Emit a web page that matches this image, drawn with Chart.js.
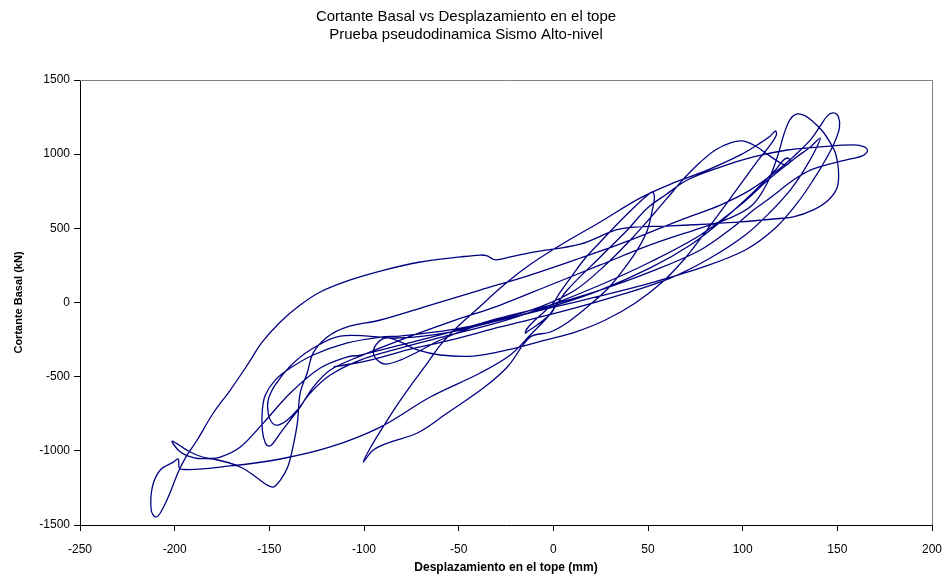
<!DOCTYPE html>
<html>
<head>
<meta charset="utf-8">
<script src="https://cdn.jsdelivr.net/npm/chart.js@4.4.1/dist/chart.umd.min.js"></script>
<style>
  html, body { margin: 0; padding: 0; background: #fff; }
  #wrap { width: 944px; height: 575px; }
</style>
</head>
<body>
<div id="wrap"><canvas id="histeresis"></canvas></div>
<script>
"use strict";

// Desplazamiento en el tope (mm), en orden de ensayo
const desplazamiento = [
    0, 0, -2.6, -7.9, -13.2, -14.8, -13.2, -7.9, -3.2, 0,
    3.7, 9.0, 16.9, 24.8, 33.8, 42.3, 48.6, 52.3, 53.4,
    52.3, 49.7, 44.9, 38.0, 29.1, 18.5, 7.9, -1.6, -12.2, -24.3, -37.0, -56.0, -71.8, -86.1, -95.1, -100.4,
    -96.7, -90.3, -82.9, -75.5, -67.6, -59.7, -50.7, -39.6, -28.0, -14.8, 2.1, 24.8, 46.0, 63.4, 81.4, 98.8, 109.4, 114.6, 117.3, 117.8,
    114.6, 108.3, 99.8, 90.9, 80.3, 69.7, 57.6, 43.3, 27.5, 11.6, -4.2, -24.3, -42.3, -59.7, -71.8, -80.8, -87.7, -92.4, -95.1, -93.0, -88.7, -80.8, -71.8, -59.7, -42.3, -24.3, -6.9,
    11.6, 27.5, 40.7, 53.9, 62.9, 69.7, 77.7, 85.6, 93.5, 99.8, 106.7, 113.6, 119.9, 123.1, 125.2, 123.6, 121.0,
    117.3, 104.1, 88.2, 72.4, 51.2, 24.8, -1.6, -28.0, -54.4, -80.8, -91.4, -108.8, -126.8, -138.9, -146.9, -152.1, -153.7, -153.7, -152.1, -150.0, -147.9, -144.2, -138.9, -133.7, -126.8, -117.8, -102.0,
    -80.8, -54.4, -28.0, -1.6, 24.8, 51.2, 77.7, 93.5, 105.1, 113.0, 118.3, 122.0, 125.2, 128.9, 133.1, 137.3, 142.1, 146.3, 149.0, 150.6,
    150.0, 145.3, 137.3, 126.8, 116.2, 98.8, 81.4, 61.8, 35.4, 14.3, -10.6, -22.7, -30.6, -34.9, -38.6, -49.1, -70.3, -91.4, -107.2, -123.1,
    -133.7, -144.2, -153.7, -161.6, -170.6, -179.6, -188.1, -194.4, -198.1, -203.4, -207.6, -210.2, -212.4, -211.8, -207.6, -200.7, -198.1, -197.0,
    -170.6, -144.2, -117.8, -91.4, -65.0, -38.6, -22.7, -12.2, -2.6, 7.4, 24.8, 39.1, 49.7, 59.2, 70.8, 88.2, 105.7, 123.6, 141.0, 158.5,
    164.3, 165.9, 163.2, 156.9, 150.0, 135.8, 126.8, 119.9, 113.0, 105.7, 95.1,
    77.7, 51.2, 24.8, -1.6, -28.0, -54.4, -80.8, -102.0, -108.8, -123.1, -138.9, -153.2, -165.3, -175.9, -182.8, -191.8, -201.3,
    -197.0, -189.1, -179.6, -165.3, -156.4, -151.1, -147.9, -144.2, -140.5, -137.9, -135.2, -133.7, -130.0, -126.8, -119.4, -108.8, -91.4, -65.0, -38.6, -12.2,
    14.3, 40.7, 67.1, 88.2, 104.1, 117.3, 127.8, 135.8, 141.0, 144.7, 147.9, 150.6, 151.1, 148.4, 143.7, 137.3, 128.9, 117.3, 101.4, 77.7,
    51.2, 24.8, -1.6, -28.0, -54.4, -80.8, -112.5, -128.4, -138.9, -146.9, -150.6, -150.6, -148.4, -145.3, -140.5, -135.2, -128.4, -117.8, -102.0, -80.8,
    -54.4, -28.0, -1.6, 24.8, 51.2, 77.7, 98.8, 114.6, 127.8, 135.8, 141.0,
    138.4, 133.1, 125.2, 114.6, 101.4, 82.9, 61.8, 35.4, 3.7, -28.0, -54.4, -77.1, -96.7, -116.2
];

// Cortante basal (kN), mismo orden
const cortante = [
    3, -51, -91, -145, -192, -206, -165, -98, -44, -3,
    71, 165, 300, 408, 529, 637, 711, 745, 711,
    624, 489, 367, 239, 98, -24, -131, -199, -233, -435, -577, -745, -880, -941, -995, -1076,
    -981, -846, -698, -563, -428, -287, -165, -37, 98, 233, 374, 543, 705, 806, 893, 995, 1076, 1123, 1156, 1129,
    1062, 961, 813, 657, 475, 300, 138, -3, -118, -199, -253, -320, -361, -354, -320, -266, -239, -266, -334, -388, -415, -388, -334, -253, -165, -98, -30,
    84, 253, 421, 610, 745, 846, 947, 1028, 1076, 1089, 1055, 995, 941, 927, 954, 974, 954,
    893, 725, 543, 388, 233, 84, -30, -118, -185, -226, -233, -273, -354, -442, -523, -624, -725, -860, -947, -968, -947, -880, -792, -705, -570, -455, -361,
    -253, -131, -17, 118, 253, 388, 502, 570, 657, 806, 981, 1143, 1237, 1271, 1258, 1217, 1156, 1076, 1008, 893,
    779, 691, 624, 577, 563, 543, 529, 516, 496, 394, 340, 307, 287, 314, 320, 307, 273, 212, 152, 71,
    -17, -131, -266, -421, -590, -745, -927, -1049, -1143, -1312, -1419, -1446, -1399, -1244, -1129, -1076, -1055, -1123,
    -1102, -1055, -974, -840, -637, -475, -354, -219, -91, 84, 307, 489, 637, 725, 826, 913, 981, 1028, 1049, 1062,
    1049, 1022, 988, 968, 947, 893, 826, 759, 691, 624, 509,
    354, 206, 84, -17, -104, -199, -287, -354, -367, -442, -610, -813, -974, -1042, -1049, -1008, -934,
    -1008, -1049, -1055, -1109, -1183, -1231, -1244, -1197, -1116, -995, -813, -610, -475, -340, -233, -165, -118, -17, 84, 185,
    300, 421, 556, 657, 759, 880, 995, 1096, 1190, 1258, 1278, 1251, 1177, 1076, 961, 826, 671, 502, 354, 233,
    131, 44, -37, -118, -199, -239, -226, -320, -428, -556, -658, -745, -813, -826, -792, -725, -610, -489, -388, -307,
    -219, -131, -17, 118, 273, 455, 657, 839, 974, 1049, 1109,
    1028, 907, 759, 610, 455, 300, 165, 51, -64, -165, -253, -320, -388, -435
];

const ticksX = [-250, -200, -150, -100, -50, 0, 50, 100, 150, 200];
const ticksY = [-1500, -1000, -500, 0, 500, 1000, 1500];

const titulo = ['Cortante Basal vs Desplazamiento en el tope', 'Prueba pseudodinamica Sismo Alto-nivel'];

const puntos = desplazamiento.map((d, i) => ({ x: d, y: cortante[i] }));

const fuente = 'Liberation Sans, Arial, sans-serif';

// marco gris del área de trazado (arriba y derecha)
const marco = {
    id: 'marco',
    beforeDatasetsDraw(chart) {
        const a = chart.chartArea;
        const ctx = chart.ctx;
        ctx.save();
        ctx.strokeStyle = '#808080';
        ctx.lineWidth = 1;
        ctx.beginPath();
        ctx.moveTo(a.left, a.top + 0.5);
        ctx.lineTo(a.right + 0.5, a.top + 0.5);
        ctx.lineTo(a.right + 0.5, a.bottom);
        ctx.stroke();
        ctx.restore();
    }
};

new Chart(document.getElementById('histeresis'), {
    type: 'scatter',
    data: {
        datasets: [{
            data: puntos,
            showLine: true,
            borderColor: '#000080',
            borderWidth: 1.3,
            pointRadius: 0,
            tension: 0.35,
            fill: false
        }]
    },
    options: {
        responsive: true,
        maintainAspectRatio: false,
        animation: false,
        layout: { padding: { left: 0, right: 12, top: 0, bottom: 0 } },
        plugins: {
            legend: { display: false },
            tooltip: { enabled: false },
            title: {
                display: true,
                text: titulo,
                color: '#000',
                font: { family: fuente, size: 15, weight: 'normal', lineHeight: 1.2 },
                padding: { top: 8, bottom: 36 }
            }
        },
        scales: {
            x: {
                type: 'linear',
                min: ticksX[0],
                max: ticksX[ticksX.length - 1],
                afterBuildTicks: s => { s.ticks = ticksX.map(v => ({ value: v })); },
                afterFit: s => { s.height = 50; s.paddingLeft = 0; s.paddingRight = 0; },
                border: { display: true, color: '#000', width: 1 },
                grid: { drawOnChartArea: false, drawTicks: true, tickLength: 6, tickColor: '#000' },
                ticks: {
                    color: '#000',
                    padding: 11,
                    maxRotation: 0,
                    font: { family: fuente, size: 12 },
                    callback: v => String(v)
                },
                title: {
                    display: true,
                    text: 'Desplazamiento en el tope (mm)',
                    color: '#000',
                    font: { family: fuente, size: 12, weight: 'bold', lineHeight: 1.2 },
                    padding: { top: 0, bottom: 0 }
                }
            },
            y: {
                type: 'linear',
                min: ticksY[0],
                max: ticksY[ticksY.length - 1],
                afterBuildTicks: s => { s.ticks = ticksY.map(v => ({ value: v })); },
                afterFit: s => { s.width = 80; s.paddingTop = 0; s.paddingBottom = 0; },
                border: { display: true, color: '#000', width: 1 },
                grid: { drawOnChartArea: false, drawTicks: true, tickLength: 6, tickColor: '#000' },
                ticks: {
                    color: '#000',
                    padding: 4,
                    font: { family: fuente, size: 12 },
                    callback: v => String(v)
                },
                title: {
                    display: true,
                    text: 'Cortante Basal (kN)',
                    color: '#000',
                    font: { family: fuente, size: 11, weight: 'bold', lineHeight: 1.2 },
                    padding: { top: 12, bottom: 0 }
                }
            }
        }
    },
    plugins: [marco]
});
</script>
</body>
</html>
